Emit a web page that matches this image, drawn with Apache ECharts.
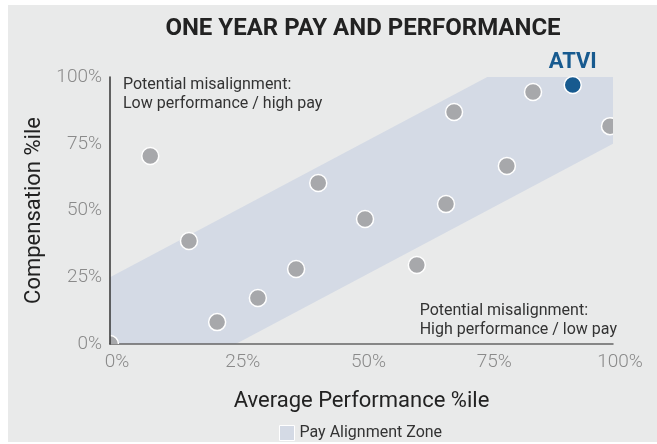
<!DOCTYPE html>
<html>
<head>
<meta charset="utf-8">
<script src="https://cdn.jsdelivr.net/npm/echarts@6/dist/echarts.min.js"></script>
<style>
  html, body { margin: 0; padding: 0; background: #ffffff; }
  #chart { width: 657px; height: 444px; }
</style>
</head>
<body>
<div id="chart"></div>
<script>
// Peer group: average performance percentile vs compensation percentile
const perfPct = [0, 8.0, 15.7, 21.3, 29.4, 37.0, 41.4, 50.7, 61.0, 66.8, 68.4, 78.9, 84.1, 99.4];
const compPct = [0, 70.4, 38.6, 8.2, 17.2, 28.1, 60.3, 46.8, 29.6, 52.4, 86.9, 66.7, 94.4, 81.6];

// Highlighted company
const focusName = 'ATVI';
const focusPerf = 92.0;
const focusComp = 97.0;

// Pay alignment zone outline (performance, compensation)
const zonePerf = [0, 0, 75, 100, 100, 25];
const zoneComp = [0, 25, 100, 100, 75, 0];

// Axis ticks
const tickValues = [0, 25, 50, 75, 100];
const tickLabels = ['0%', '25%', '50%', '75%', '100%'];

const FONT = 'Roboto, "Noto Sans", sans-serif';
const ZONE_COLOR = '#d4dae5';
const DOT_COLOR = '#a7a8ab';
const FOCUS_COLOR = '#175a8f';

function tickLabel(v) {
  const i = tickValues.indexOf(Math.round(v));
  return i >= 0 ? tickLabels[i] : '';
}

const chart = echarts.init(document.getElementById('chart'), null, { renderer: 'canvas' });

chart.setOption({
  animation: false,
  backgroundColor: '#ffffff',
  title: {
    text: 'ONE YEAR PAY AND PERFORMANCE',
    left: 358,
    top: 12,
    textAlign: 'center',
    textStyle: { fontFamily: FONT, fontSize: 24, fontWeight: 'bold', color: '#222222' }
  },
  grid: { left: 110, right: 44, top: 77, bottom: 100, containLabel: false },
  legend: {
    data: ['Pay Alignment Zone'],
    left: 274,
    top: 420,
    icon: 'rect',
    itemWidth: 15,
    itemHeight: 15,
    itemStyle: { borderColor: '#ffffff', borderWidth: 1 },
    textStyle: { fontFamily: FONT, fontSize: 16, color: '#333333', padding: [0, 0, 0, 0] },
    selectedMode: false
  },
  xAxis: {
    type: 'value',
    min: 0, max: 100, interval: 25,
    z: 1.5,
    axisLine: { show: true, lineStyle: { color: '#666666', width: 1.5 } },
    axisTick: { show: false },
    splitLine: { show: false },
    axisLabel: {
      formatter: tickLabel,
      fontFamily: FONT, fontSize: 19, fontWeight: 300, color: '#8a8a8a',
      margin: 9, padding: [0, 0, 0, 14]
    },
    name: 'Average Performance %ile',
    nameLocation: 'middle',
    nameGap: 46,
    nameTextStyle: { fontFamily: FONT, fontSize: 22, color: '#222222' }
  },
  yAxis: {
    type: 'value',
    min: 0, max: 100, interval: 25,
    z: 3,
    axisLine: { show: true, lineStyle: { color: '#333333', width: 1.5 } },
    axisTick: { show: false },
    splitLine: { show: false },
    axisLabel: {
      formatter: tickLabel,
      fontFamily: FONT, fontSize: 19, fontWeight: 300, color: '#8a8a8a',
      margin: 8
    },
    name: 'Compensation %ile',
    nameLocation: 'middle',
    nameGap: 64,
    nameRotate: 90,
    nameTextStyle: { fontFamily: FONT, fontSize: 22, color: '#222222' }
  },
  graphic: [
    {
      type: 'rect', z: -10, silent: true,
      shape: { x: 8, y: 5, width: 649, height: 437 },
      style: { fill: '#e9eaea' }
    },
    {
      type: 'text', left: 123, top: 75, z: 10, silent: true,
      style: {
        text: 'Potential misalignment:\nLow performance / high pay',
        font: '16px ' + FONT, fill: '#333333', lineHeight: 19
      }
    },
    {
      type: 'text', right: 40, top: 301, z: 10, silent: true,
      style: {
        text: 'Potential misalignment:\nHigh performance / low pay',
        font: '16px ' + FONT, fill: '#333333', lineHeight: 19, align: 'right'
      }
    }
  ],
  series: [
    {
      name: 'Pay Alignment Zone',
      type: 'custom',
      z: 1,
      clip: false,
      itemStyle: { color: ZONE_COLOR },
      data: [[0, 0]],
      renderItem: function (params, api) {
        const pts = zonePerf.map(function (x, i) { return api.coord([x, zoneComp[i]]); });
        return { type: 'polygon', shape: { points: pts }, style: { fill: ZONE_COLOR } };
      }
    },
    {
      name: 'Peers',
      type: 'custom',
      z: 2,
      clip: true,
      data: perfPct.map(function (x, i) { return [x, compPct[i]]; }),
      renderItem: function (params, api) {
        const p = api.coord([api.value(0), api.value(1)]);
        return {
          type: 'circle',
          shape: { cx: p[0], cy: p[1], r: 8.5 },
          style: { fill: DOT_COLOR, stroke: '#ffffff', lineWidth: 1.5 }
        };
      }
    },
    {
      name: focusName,
      type: 'custom',
      z: 2,
      clip: false,
      data: [[focusPerf, focusComp]],
      renderItem: function (params, api) {
        const p = api.coord([api.value(0), api.value(1)]);
        return {
          type: 'group',
          children: [
            {
              type: 'circle',
              shape: { cx: p[0], cy: p[1], r: 8.5 },
              style: { fill: FOCUS_COLOR, stroke: '#ffffff', lineWidth: 1.5 }
            },
            {
              type: 'text',
              x: p[0], y: p[1] - 23,
              style: {
                text: focusName, font: 'bold 22px ' + FONT, fill: FOCUS_COLOR,
                align: 'center', verticalAlign: 'middle'
              }
            }
          ]
        };
      }
    }
  ]
});
</script>
</body>
</html>
